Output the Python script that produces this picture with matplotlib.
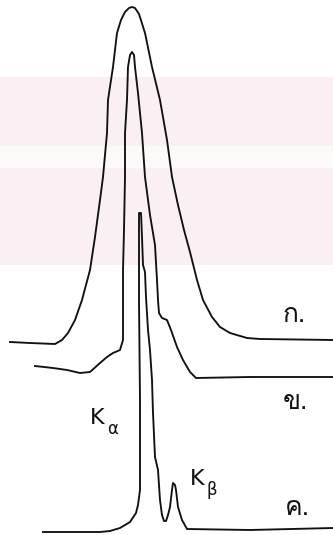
import matplotlib
matplotlib.use("Agg")
import matplotlib.pyplot as plt
from matplotlib import font_manager
from matplotlib.ft2font import FT2Font

# ---- spectra: channel position and height above each trace's baseline ----
ch_a = [10, 30, 55, 62, 68, 75, 82, 90, 95, 100, 103, 107, 108, 113, 117, 121, 125,
        129, 132, 135, 139, 145, 152, 160, 167, 172, 178, 184, 190, 197, 203, 212, 220,
        230, 247, 260, 333]
int_a = [-2, -3, -4, 0, 7, 20, 40, 70, 103, 140, 163, 207, 240, 273, 307, 320, 328,
         332, 333, 332, 326, 307, 273, 240, 200, 163, 135, 110, 88, 60, 40, 23, 13,
         7, 2, 1, 0]

ch_b = [35, 53, 67, 80, 90, 100, 107, 113, 120, 123, 123, 123, 124, 125, 125, 127, 128,
        130, 132, 134, 135, 138, 142, 145, 150, 155, 157, 158, 159, 162, 167, 171, 177,
        183, 190, 196, 250, 333]
int_b = [12, 10, 8, 5, 6, 15, 21, 25, 28, 38, 78, 108, 148, 201, 245, 278, 311,
         323, 326, 323, 311, 285, 245, 201, 163, 133, 98, 78, 65, 60, 58, 48, 31,
         18, 6, 0, 1, 1]

ch_c = [43, 100, 110, 120, 130, 136, 138, 140, 140, 139, 139, 139, 141, 142, 143, 145,
        146, 148, 150, 152, 153, 155, 158, 160, 162, 164, 166, 168, 170, 172, 173, 175,
        176, 178, 182, 187, 250, 333]
int_c = [-1, -1, 0, 3, 9, 18, 26, 41, 131, 231, 291, 318, 318, 294, 266, 259,
         234, 201, 181, 151, 118, 74, 61, 31, 16, 10, 10, 16, 24, 41, 48, 46,
         41, 24, 11, 2, 1, 3]

trace_labels = ["ก.", "ข.", "ค."]
peak_symbols = ["K", "K"]
peak_subscripts = ["α", "β"]


def thai_font():
    """Return the name of an installed family that covers Thai, if any."""
    for f in font_manager.fontManager.ttflist:
        try:
            if ord("ก") in FT2Font(f.fname).get_charmap():
                return f.name
        except Exception:
            continue
    return "DejaVu Sans"


TH = thai_font()

W, H = 333, 535
fig = plt.figure(figsize=(W / 100, H / 100), dpi=100)
ax = fig.add_axes([0, 0, 1, 1])
ax.set_xlim(0, W)
ax.set_ylim(0, H)
ax.axis("off")

# faint tinted page band behind the plot
ax.axhspan(H - 265, H - 77, color="#faf0f3", zorder=0, lw=0)
ax.axhspan(H - 168, H - 146, color="#fcf9f9", zorder=0, lw=0)

# vertical offsets of the stacked traces
offsets = [195, 157, 4]
series = [(ch_a, int_a), (ch_b, int_b), (ch_c, int_c)]
for (x, y), off in zip(series, offsets):
    ax.plot(x, [v + off for v in y], color="#111111", lw=1.35, zorder=3,
            solid_joinstyle="round")

label_pos = [(294, 220), (295, 133), (297, 27)]
for txt, (lx, ly) in zip(trace_labels, label_pos):
    ax.text(lx, ly, txt, fontsize=19, family=[TH, "DejaVu Sans"],
            ha="center", va="center", color="#111111", zorder=4)

peak_pos = [(90, 107), (190, 46)]
for sym, sub, (px, py) in zip(peak_symbols, peak_subscripts, peak_pos):
    ax.text(px, py, sym, fontsize=16, family="DejaVu Sans", color="#111111",
            ha="left", va="bottom", zorder=4)
    ax.text(px + 17, py - 10, sub, fontsize=12, family="DejaVu Sans",
            color="#111111", ha="left", va="bottom", zorder=4)

fig.savefig("out.png", dpi=100, facecolor="white")
